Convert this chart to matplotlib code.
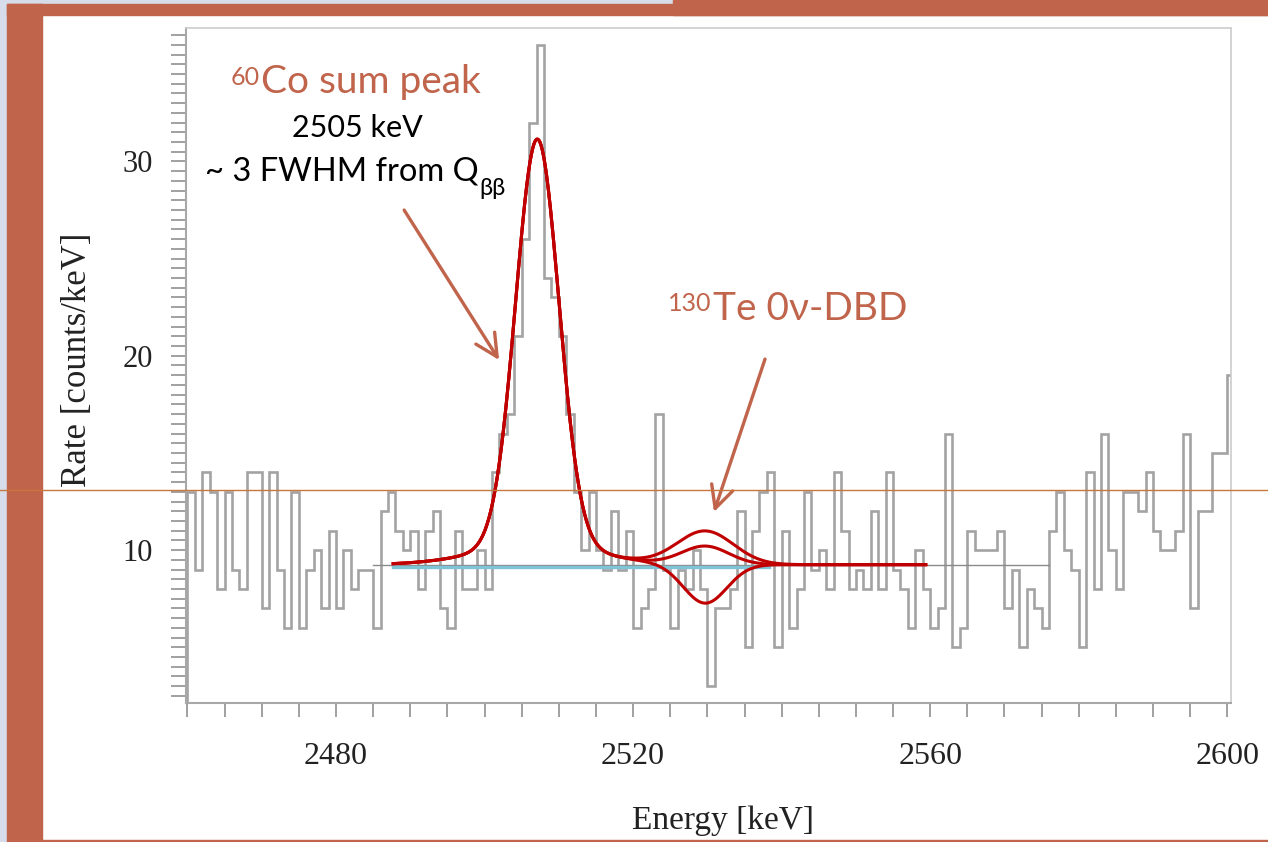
import numpy as np
import matplotlib.pyplot as plt
from matplotlib.patches import Rectangle
from matplotlib.lines import Line2D
from matplotlib.ticker import MultipleLocator, FixedLocator

W, H = 1268, 842

# spectrum, 1 keV bins starting at 2460 keV
bin_start = 2460
rate = [13,
        9, 14, 13, 8, 13, 9, 8, 14, 14, 7,
        14, 9, 6, 13, 6, 9, 10, 7, 11, 7,
        10, 8, 9, 9, 6, 12, 13, 11, 10, 11,
        8, 11, 12, 7, 6, 11, 8, 8, 10, 8,
        14, 16, 17, 21, 26, 32, 36, 24, 23, 21,
        17, 13, 10, 13, 10, 9, 12, 9, 11, 6,
        7, 8, 17, 9, 6, 9, 8, 10, 8, 3,
        7, 7, 8, 12, 5, 11, 13, 14, 5, 11,
        6, 8, 13, 9, 10, 8, 14, 11, 8, 9,
        8, 12, 8, 14, 9, 8, 6, 10, 8, 6,
        7, 16, 5, 6, 11, 10, 10, 10, 11, 7,
        9, 5, 8, 7, 6, 11, 13, 10, 9, 5,
        14, 8, 16, 10, 8, 13, 13, 12, 14, 11,
        10, 10, 11, 16, 7, 12, 12, 15, 15, 19]
edges = np.arange(bin_start, bin_start + len(rate) + 1)

# fit
fit_range = (2487.7, 2559.4)
bkg_range = (2485.0, 2576.0)
flat_range = (2487.7, 2538.3)
baseline = 9.25
co_mu, co_sig, co_amp = 2507.1, 2.9, 20.9
co_tail_sig, co_tail_amp = 8.0, 1.0
dbd_mu = 2529.7
dbd_amp = [1.72, 0.94, -2.0]
dbd_sig = [3.8, 3.2, 2.9]

terra = '#c0644b'
grey = '#a3a3a3'

fig = plt.figure(figsize=(W / 100, H / 100), dpi=100)

# slide decoration
def px_rect(x0, y0, x1, y1, color):
    fig.patches.append(Rectangle((x0 / W, 1 - y1 / H), (x1 - x0) / W, (y1 - y0) / H,
                                 transform=fig.transFigure, color=color, zorder=0))

px_rect(0, 0, 7, H, '#d6dce9')
px_rect(0, 0, 673, 4, '#d6dce9')
px_rect(7, 4, 42, H, terra)
px_rect(7, 4, W, 15, terra)
px_rect(673, 0, W, 15, terra)
px_rect(42, 840, W, H, terra)

ax = fig.add_axes([186 / W, 1 - 703 / H, 1045 / W, 675 / H])
ax.set_xlim(2459.8, 2600.5)
ax.set_ylim(2.13, 36.87)

ax.stairs(rate, edges, color=grey, lw=1.9, zorder=2)

x = np.linspace(fit_range[0], fit_range[1], 800)
co = co_amp * np.exp(-0.5 * ((x - co_mu) / co_sig) ** 2) \
    + co_tail_amp * np.exp(-0.5 * ((x - co_mu) / co_tail_sig) ** 2)
ax.plot(bkg_range, [9.23, 9.23], color='#8a8a8a', lw=1.0, zorder=3)
ax.plot(flat_range, [9.15, 9.15], color='#7ec3d6', lw=2.4, zorder=4)
for a, s in zip(dbd_amp, dbd_sig):
    y = baseline + co + a * np.exp(-0.5 * ((x - dbd_mu) / s) ** 2)
    ax.plot(x, y, color='#c00000', lw=2.2, zorder=5)

# axes style
for side in ['left', 'bottom']:
    ax.spines[side].set_color('#a8a8a8')
    ax.spines[side].set_linewidth(1.5)
for side in ['top', 'right']:
    ax.spines[side].set_color('#cccccc')
    ax.spines[side].set_linewidth(1.2)

ax.xaxis.set_major_locator(FixedLocator([2480, 2520, 2560, 2600]))
ax.xaxis.set_minor_locator(MultipleLocator(5))
ax.yaxis.set_major_locator(FixedLocator([10, 20, 30]))
ax.yaxis.set_minor_locator(MultipleLocator(0.5))
ax.tick_params(axis='x', which='both', direction='out', color='#a0a0a0', width=1.4,
               top=False, length=10, pad=18)
ax.tick_params(axis='y', which='both', direction='out', color='#a0a0a0', width=1.4,
               right=False, length=11, pad=13)
for lab in ax.get_xticklabels():
    lab.set_fontfamily('Liberation Serif')
    lab.set_fontsize(23)
    lab.set_color('#222222')
for lab in ax.get_yticklabels():
    lab.set_fontfamily('Liberation Serif')
    lab.set_fontsize(22)
    lab.set_color('#222222')

ax.set_xlabel('Energy [keV]', family='Liberation Serif', fontsize=24, color='#222222')
ax.set_ylabel('Rate [counts/keV]', family='Liberation Serif', fontsize=25, color='#222222')
ax.xaxis.set_label_coords(0.514, -0.152)
ax.yaxis.set_label_coords(-0.088, 0.508)

# slide annotations
sans = ['Lato', 'DejaVu Sans']
t1 = ax.text(2469.9, 33.5, 'Co sum peak', color=terra, fontsize=28, family=sans,
             ha='left', va='baseline', zorder=6)
ax.annotate('60', xy=(0, 1), xycoords=t1, xytext=(-1, -1), textcoords='offset points',
            color=terra, fontsize=18, family=sans, ha='right', va='top')
ax.text(2482.9, 31.27, '2505 keV', color='black', fontsize=22, family=sans,
        ha='center', va='baseline', zorder=6)
t2 = ax.text(2462.3, 29.04, '~ 3 FWHM from Q', color='black', fontsize=23.5, family=sans,
             ha='left', va='baseline', zorder=6)
ax.annotate('ββ', xy=(1, 0), xycoords=t2, xytext=(1, -2), textcoords='offset points',
            color='black', fontsize=17, family=sans, ha='left', va='center')
t3 = ax.text(2530.8, 21.84, 'Te 0ν-DBD', color=terra, fontsize=28, family=sans,
             ha='left', va='baseline', zorder=6)
ax.annotate('130', xy=(0, 1), xycoords=t3, xytext=(-1, -1), textcoords='offset points',
            color=terra, fontsize=18, family=sans, ha='right', va='top')

arrow = dict(arrowstyle='->, head_length=0.8, head_width=0.4', color=terra, lw=2.4,
             mutation_scale=20, shrinkA=0, shrinkB=0)
ax.annotate('', xy=(2501.96, 19.78), xytext=(2489.17, 27.5), arrowprops=arrow, zorder=6)
ax.annotate('', xy=(2530.89, 11.96), xytext=(2537.76, 19.83), arrowprops=arrow, zorder=6)

# slide guide line across the picture
fig.add_artist(Line2D([0, 1], [1 - 490 / H, 1 - 490 / H], transform=fig.transFigure,
                      color='#c8783c', lw=1.0, zorder=10))

fig.savefig('out.png', dpi=100, facecolor='white')
